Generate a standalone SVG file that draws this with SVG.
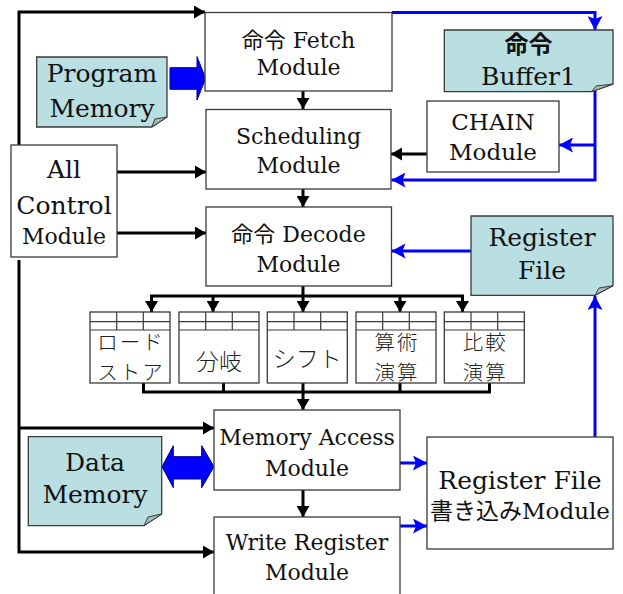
<svg xmlns="http://www.w3.org/2000/svg" width="623" height="594" viewBox="0 0 623 594">
<defs>
<style>
.box{fill:#fff;stroke:#3a3a3a;stroke-width:1.3}
.note{fill:#b9dfe3;stroke:#3a3a3a;stroke-width:1.3}
.flap{fill:#a9bcbf;stroke:#3a3a3a;stroke-width:1}
.t{font-family:"DejaVu Serif","Noto Sans CJK JP",serif;fill:#111;text-anchor:middle}
.j{font-family:"Noto Sans CJK JP",sans-serif;font-weight:300;fill:#222;text-anchor:middle;font-size:23px}
.j2{font-size:20.5px;letter-spacing:2px}
.m{font-size:22px}
.n{font-size:25px}
.k{fill:none;stroke:#000;stroke-width:3}
.b{fill:none;stroke:#0000ff;stroke-width:3}
.grid{fill:none;stroke:#3a3a3a;stroke-width:1.2}
.fat{fill:#0000ff;stroke:#00008a;stroke-width:1}
</style>
<marker id="ak" markerUnits="userSpaceOnUse" markerWidth="12" markerHeight="13" refX="11" refY="6.5" orient="auto"><path d="M0,0 L11,6.5 L0,13 z" fill="#000"/></marker>
<marker id="ab" markerUnits="userSpaceOnUse" markerWidth="15" markerHeight="15" refX="14" refY="7.5" orient="auto"><path d="M0,0 L14,7.5 L0,15 L3,7.5 z" fill="#0000ff"/></marker>
</defs>

<g id="connectors">
<path class="k" d="M19,145 V12 H205" marker-end="url(#ak)"/>
<path class="k" d="M117,172 H206" marker-end="url(#ak)"/>
<path class="k" d="M117,233 H206" marker-end="url(#ak)"/>
<path class="k" d="M19,260 V552 H214" marker-end="url(#ak)"/>
<path class="k" d="M19,428 H214" marker-end="url(#ak)"/>
<path class="k" d="M303,91 V109" marker-end="url(#ak)"/>
<path class="k" d="M303,189 V207" marker-end="url(#ak)"/>
<path class="k" d="M427,154 H391" marker-end="url(#ak)"/>
<path class="k" d="M303,286 V296"/>
<path class="k" d="M151.5,312 V296 H462.5 V312" marker-end="url(#ak)"/>
<path class="k" d="M151.5,296 V312" marker-end="url(#ak)"/>
<path class="k" d="M213,296 V312" marker-end="url(#ak)"/>
<path class="k" d="M303,296 V312" marker-end="url(#ak)"/>
<path class="k" d="M400,296 V312" marker-end="url(#ak)"/>
<path class="k" d="M143.5,383 V392 H489.5 V383"/>
<path class="k" d="M223.5,383 V392"/>
<path class="k" d="M400,383 V392"/>
<path class="k" d="M303,383 V410" marker-end="url(#ak)"/>
<path class="k" d="M303,490 V517" marker-end="url(#ak)"/>
<path class="b" d="M392,12.5 H595 V30" marker-end="url(#ab)"/>
<path class="b" d="M595,88 V180 H391.5" marker-end="url(#ab)"/>
<path class="b" d="M595,145 H559" marker-end="url(#ab)"/>
<path class="b" d="M471,251 H391.5" marker-end="url(#ab)"/>
<path class="b" d="M595,437 V296" marker-end="url(#ab)"/>
<path class="b" d="M400,463 H427" marker-end="url(#ab)"/>
<path class="b" d="M400,526 H427" marker-end="url(#ab)"/>
<polygon class="fat" points="170,67.7 197,67.7 197,56.7 205.7,78.3 197,100 197,89.3 170,89.3"/>
<polygon class="fat" points="162,466.7 173.3,445.7 173.3,456.7 201.7,456.7 201.7,445.7 214,466.7 201.7,487.7 201.7,479 173.3,479 173.3,487.7"/>
</g>

<g id="fetch">
<rect class="box" x="205" y="12.5" width="187" height="78.5"/>
<text class="t m" x="298.5" y="48">命令 Fetch</text>
<text class="t m" x="298.5" y="75">Module</text>
</g>

<g id="scheduling">
<rect class="box" x="206" y="109.5" width="185" height="79.5"/>
<text class="t m" x="298.5" y="144">Scheduling</text>
<text class="t m" x="298.5" y="173">Module</text>
</g>

<g id="decode">
<rect class="box" x="206" y="207" width="185.5" height="79"/>
<text class="t m" x="298.5" y="242">命令 Decode</text>
<text class="t m" x="298.5" y="272">Module</text>
</g>

<g id="memaccess">
<rect class="box" x="214" y="410" width="186" height="80"/>
<text class="t m" x="307" y="445">Memory Access</text>
<text class="t m" x="307" y="476">Module</text>
</g>

<g id="writereg">
<rect class="box" x="214" y="517" width="186" height="90"/>
<text class="t m" x="307" y="550">Write Register</text>
<text class="t m" x="307" y="580">Module</text>
</g>

<g id="chain">
<rect class="box" x="427" y="101" width="132" height="71"/>
<text class="t" font-size="23" x="493" y="130">CHAIN</text>
<text class="t" font-size="23" x="493" y="160">Module</text>
</g>

<g id="allcontrol">
<rect class="box" x="11" y="145" width="106" height="112"/>
<text class="t n" x="64" y="178">All</text>
<text class="t n" x="64" y="214">Control</text>
<text class="t m" x="64" y="244">Module</text>
</g>

<g id="rfwrite">
<rect class="box" x="427" y="437" width="186" height="112"/>
<text class="t n" x="520" y="489">Register File</text>
<text class="t" font-size="23" x="520" y="519">書き込みModule</text>
</g>

<g id="progmem">
<polygon class="note" points="36.7,57 167,57 167,117 151.7,127 36.7,127"/>
<polygon class="flap" points="167,117 151.7,127 155,119"/>
<text class="t n" x="102" y="82">Program</text>
<text class="t n" x="102" y="117">Memory</text>
</g>

<g id="buffer">
<polygon class="note" points="444.3,30 613,30 613,84 591.7,91.7 444.3,91.7"/>
<polygon class="flap" points="613,84 591.7,91.7 596,86"/>
<text class="t" font-size="24" font-weight="bold" x="528.5" y="53">命令</text>
<text class="t n" x="528.5" y="85">Buffer1</text>
</g>

<g id="regfile">
<polygon class="note" points="471,216 613,216 613,285.7 595,295.3 471,295.3"/>
<polygon class="flap" points="613,285.7 595,295.3 599,288"/>
<text class="t n" x="542" y="246">Register</text>
<text class="t n" x="542" y="279">File</text>
</g>

<g id="datamem">
<polygon class="note" points="28.3,436.7 161.7,436.7 161.7,514 144,525.7 28.3,525.7"/>
<polygon class="flap" points="161.7,514 144,525.7 148,517"/>
<text class="t n" x="95" y="471">Data</text>
<text class="t n" x="95" y="503">Memory</text>
</g>

<g id="unit-loadstore">
<rect class="box" x="90" y="312" width="80" height="71"/>
<path class="grid" d="M90,321.7 H170 M90,330 H170 M116.7,312 V330 M143.3,312 V330"/>
<text class="j j2" x="131" y="350">ロード</text>
<text class="j j2" x="131" y="380">ストア</text>
</g>
<g id="unit-branch">
<rect class="box" x="179" y="312" width="80" height="71"/>
<path class="grid" d="M179,321.7 H259 M179,330 H259 M205.7,312 V330 M232.3,312 V330"/>
<text class="j" x="219" y="370">分岐</text>
</g>
<g id="unit-shift">
<rect class="box" x="267.3" y="312" width="80" height="71"/>
<path class="grid" d="M267.3,321.7 H347.3 M267.3,330 H347.3 M294,312 V330 M320.7,312 V330"/>
<text class="j" x="307.3" y="367">シフト</text>
</g>
<g id="unit-arith">
<rect class="box" x="356" y="312" width="80" height="71"/>
<path class="grid" d="M356,321.7 H436 M356,330 H436 M382.7,312 V330 M409.3,312 V330"/>
<text class="j j2" x="397" y="350">算術</text>
<text class="j j2" x="397" y="380">演算</text>
</g>
<g id="unit-compare">
<rect class="box" x="444.3" y="312" width="80" height="71"/>
<path class="grid" d="M444.3,321.7 H524.3 M444.3,330 H524.3 M471,312 V330 M497.7,312 V330"/>
<text class="j j2" x="485.3" y="350">比較</text>
<text class="j j2" x="485.3" y="380">演算</text>
</g>
</svg>
